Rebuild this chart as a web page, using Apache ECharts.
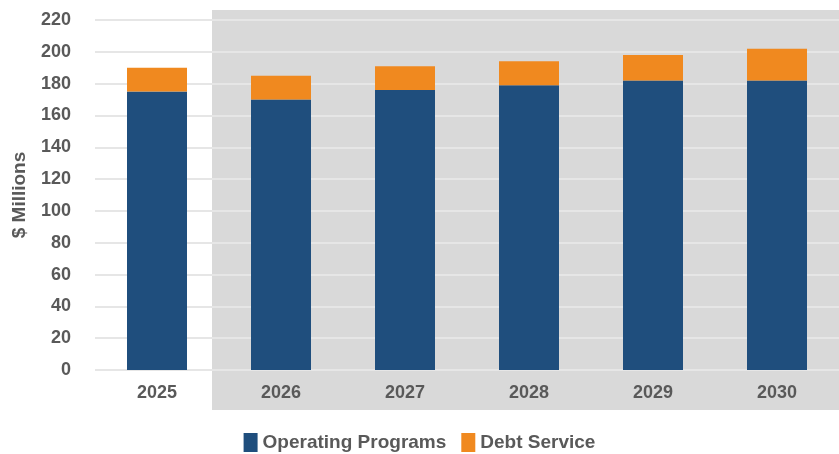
<!DOCTYPE html>
<html>
<head>
<meta charset="utf-8">
<script src="https://cdn.jsdelivr.net/npm/echarts@6/dist/echarts.min.js"></script>
<style>
  html, body { margin: 0; padding: 0; background: #ffffff; }
  #chart { width: 839px; height: 454px; }
</style>
</head>
<body>
<div id="chart"></div>
<script>
// Annual spending, $ millions
const years = ['2025', '2026', '2027', '2028', '2029', '2030'];
const operatingPrograms = [175, 170, 176, 179, 182, 182];
const debtService = [15, 15, 15, 15, 16, 20];
const yTicks = { min: 0, max: 220, interval: 20 };

const textColor = '#595959';
const font = 'Liberation Sans, Arial, sans-serif';

const chart = echarts.init(document.getElementById('chart'));

chart.setOption({
  backgroundColor: '#ffffff',
  animation: false,
  // shaded band behind the projected years
  graphic: [{
    type: 'rect',
    z: -10,
    shape: { x: 212, y: 10, width: 627, height: 400 },
    style: { fill: '#d9d9d9' },
    silent: true
  }],
  grid: { left: 95, right: 0, top: 20, bottom: 84 },
  legend: {
    left: 'center',
    top: 428,
    itemWidth: 14,
    itemHeight: 19,
    itemGap: 15,
    icon: 'rect',
    textStyle: { color: textColor, fontFamily: font, fontWeight: 'bold', fontSize: 19 },
    data: ['Operating Programs', 'Debt Service']
  },
  xAxis: {
    type: 'category',
    data: years,
    axisLine: { show: false },
    axisTick: { show: false },
    axisLabel: { color: textColor, fontFamily: font, fontWeight: 'bold', fontSize: 18, margin: 14 }
  },
  yAxis: {
    type: 'value',
    min: yTicks.min,
    max: yTicks.max,
    interval: yTicks.interval,
    name: '$ Millions',
    nameLocation: 'middle',
    nameGap: 66,
    nameTextStyle: { color: textColor, fontFamily: font, fontWeight: 'bold', fontSize: 19 },
    axisLine: { show: false },
    axisTick: { show: false },
    axisLabel: { color: textColor, fontFamily: font, fontWeight: 'bold', fontSize: 18, margin: 24 },
    splitLine: { lineStyle: { color: '#e6e6e6', width: 2 } }
  },
  series: [
    {
      name: 'Operating Programs',
      type: 'bar',
      stack: 'total',
      barWidth: 60,
      itemStyle: { color: '#1f4e7d' },
      data: operatingPrograms
    },
    {
      name: 'Debt Service',
      type: 'bar',
      stack: 'total',
      barWidth: 60,
      itemStyle: { color: '#f0891f' },
      data: debtService
    }
  ]
});
</script>
</body>
</html>
